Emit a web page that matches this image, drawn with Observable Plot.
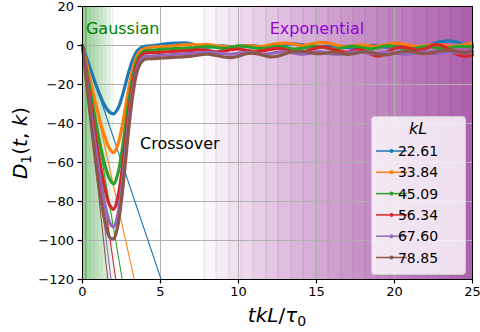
<!DOCTYPE html>
<html>
<head>
<meta charset="utf-8">
<script src="https://cdn.jsdelivr.net/npm/d3@7"></script>
<script src="https://cdn.jsdelivr.net/npm/@observablehq/plot@0.6"></script>
<style>
  html, body { margin: 0; padding: 0; background: white; }
  #chart { width: 480px; height: 332px; }
  svg { font-family: "DejaVu Sans", sans-serif; }
</style>
</head>
<body>
<div id="chart"></div>
<script>
// ---- data ----
const kLLabels = ["22.61", "33.84", "45.09", "56.34", "67.60", "78.85"];
const colors = ["#1f77b4", "#ff7f0e", "#2ca02c", "#d62728", "#9467bd", "#8c564b"];

const times = [0,0.25,0.5,0.75,1,1.25,1.5,1.75,2,2.25,2.5,2.75,3,3.25,3.5,3.75,4,
  4.5,5,5.5,6,6.5,7,7.5,8,8.5,9,9.5,10,10.5,11,11.5,12,12.5,13,13.5,14,14.5,15,15.5,16,16.5,17,17.5,18,18.5,19,19.5,20,20.5,21,21.5,22,22.5,23,23.5,24,24.5,25];

const d1_2261 = [0,-5.9,-11.9,-17.6,-23.1,-27.9,-31.9,-34.3,-35,-32.6,-27.3,-20,-12.6,-6.7,-2.8,-1.1,-0.4,
  0,0.5,1,1.2,1.3,0.8,-0.3,-0.8,-0.5,-0.2,-0.6,-0.5,0,-0.2,-0.8,-0.6,0,0.5,0.8,0.5,-0.2,-0.8,-0.5,0,-0.3,-1,-1.2,-0.6,0,-0.2,-0.8,-0.8,-0.3,-0.5,-1,-0.2,1,2,2.4,1.8,0.5,0.2];
const d1_3384 = [0,-9.0,-18.0,-26.7,-35.0,-42.4,-48.4,-53.0,-55,-51.2,-43.1,-31.8,-20.4,-11.3,-5.3,-2.6,-1.5,
  -0.8,-0.5,-0.5,0,0.3,0.5,0.3,0.5,0,-0.5,-0.8,-0.5,0,-0.3,-0.5,0.3,1,1.2,0.8,0,0.5,1.3,1.5,0.8,-0.2,-0.5,0,0.3,-0.3,-0.3,0.5,1.2,0.8,0,-0.5,0,0.5,0.3,-0.5,-0.3,0.5,1.2];
const d1_4509 = [0,-11.8,-23.5,-34.9,-45.6,-55.3,-63.2,-68.6,-71,-66.2,-55.8,-41.3,-26.8,-15.1,-7.5,-4.1,-2.7,
  -2.5,-2,-1.8,-1.5,-1.5,-1.2,-0.8,-0.6,-0.8,-1.5,-1.0,-0.2,-0.5,-1.2,-1.5,-1.0,-0.5,-1.0,-1.8,-1.5,-0.8,-0.5,-1.0,-1.8,-1.5,-0.5,-0.5,-1.2,-1.8,-1.0,-0.2,-0.5,-1.5,-2.0,-1.2,-0.5,-0.8,-1.5,-1.2,-0.5,-0.5,-1.0];
const d1_5634 = [0,-14.1,-28.0,-41.7,-54.5,-66.1,-75.5,-82.0,-84,-78.3,-66.2,-49.2,-32.2,-18.4,-9.5,-5.4,-3.8,
  -3.8,-3.5,-3.2,-3,-2.8,-2.5,-2.2,-2.5,-3.2,-3.0,-2.2,-1.8,-2.5,-3.2,-2.8,-2.0,-1.5,-2.2,-3.2,-3.5,-2.5,-1.2,-0.8,-1.8,-3.0,-3.5,-2.2,-2.5,-4.5,-5.5,-3.5,-1.5,-0.8,-1.5,-2.5,-1.5,0.3,0,-2,-4.5,-5.5,-5];
const d1_6760 = [0,-16.3,-32.4,-47.7,-61.8,-74.2,-84.0,-91.0,-93,-87.3,-73.9,-55.2,-36.5,-21.4,-11.6,-7.2,-5.4,
  -5.5,-5,-4.8,-4.5,-4.3,-4,-3.8,-3.5,-3.8,-4.2,-4.5,-4.0,-3.5,-3.8,-4.5,-4.2,-3.5,-3.2,-3.8,-4.5,-4.0,-3.2,-3.5,-4.3,-4.5,-3.8,-3.2,-3.5,-4.2,-4.0,-3.5,-3.8,-4.5,-4.3,-3.5,-3.5,-4.0,-3.8,-3.2,-3.5,-3.8,-3.5];
const d1_7885 = [0,-18.4,-36.3,-53.5,-69,-82,-92,-98.5,-99,-93,-79,-60,-40,-24,-13.5,-8.8,-7,
  -6.8,-6.5,-6.2,-6,-5.8,-5.5,-4.8,-4.5,-5.0,-5.8,-6.2,-5.5,-4.2,-4.0,-4.8,-5.8,-5.5,-4.2,-3.2,-3.0,-3.5,-4.2,-4.0,-3.5,-4.0,-4.5,-4.0,-3.2,-3.5,-4.5,-4.8,-4.0,-3.2,-3.0,-3.8,-4.2,-3.5,-2.8,-2.5,-3.0,-3.5,-3.0];
const seriesValues = [d1_2261, d1_3384, d1_4509, d1_5634, d1_6760, d1_7885];

// straight fit lines: from (0,0) down to where they leave the axes at -120
const fitStartT = [0, 0, 0, 0, 0, 0];
const fitStartV = [0, 0, 0, 0, 0, 0];
const fitEndT = [5.04, 3.32, 2.55, 2.13, 1.83, 1.62];
const fitEndV = [-120, -120, -120, -120, -120, -120];

// shaded regimes
const gaussianEdges = [0.22, 0.5, 0.75, 1.0, 1.25, 1.5, 1.75, 1.97];
const gaussianLine = [0.22];
const expEdges = [7.8, 8.56, 9.39, 10.16, 10.93, 11.76, 12.53, 13.37, 14.13, 14.97, 15.74, 16.57, 17.34, 18.11, 18.88, 19.65, 20.48, 21.25, 22.08, 22.85, 23.62, 24.39];
const xMax = 25;

const xTicks = [0, 5, 10, 15, 20, 25];
const yTicks = [20, 0, -20, -40, -60, -80, -100, -120];

const annotations = [
  {t: 0.22, v: 5.8, text: "Gaussian", color: "green"},
  {t: 12.0, v: 6.0, text: "Exponential", color: "darkviolet"},
  {t: 3.69, v: -53.1, text: "Crossover", color: "black"}
];

// ---- build ----
const marks = [];
marks.push(Plot.rectX(gaussianEdges, {x1: 0, x2: d => d, y1: -120, y2: 20, fill: "green", fillOpacity: 0.06}));
marks.push(Plot.ruleX(gaussianEdges, {x: d => d, y1: -120, y2: 20, stroke: "green", strokeOpacity: 0.08}));
marks.push(Plot.ruleX(gaussianLine, {x: d => d, y1: -120, y2: 20, stroke: "green", strokeOpacity: 0.45}));
marks.push(Plot.rectX(expEdges, {x1: d => d, x2: xMax, y1: -120, y2: 20, fill: "purple", fillOpacity: 0.04}));
marks.push(Plot.ruleX(expEdges, {x: d => d, y1: -120, y2: 20, stroke: "purple", strokeOpacity: 0.12}));
marks.push(Plot.gridX(xTicks, {stroke: "#b0b0b0", strokeOpacity: 1, strokeWidth: 1}));
marks.push(Plot.gridY(yTicks, {stroke: "#b0b0b0", strokeOpacity: 1, strokeWidth: 1}));

seriesValues.forEach((vals, k) => {
  const rows = times.map((t, i) => ({t, v: vals[i]}));
  marks.push(Plot.line(rows, {x: "t", y: "v", stroke: colors[k], strokeWidth: 3.2, curve: "catmull-rom", strokeLinejoin: "round"}));
  const fit = [{t: fitStartT[k], v: fitStartV[k]}, {t: fitEndT[k], v: fitEndV[k]}];
  marks.push(Plot.line(fit, {x: "t", y: "v", stroke: colors[k], strokeWidth: 1.1}));
});

marks.push(Plot.text(annotations, {x: "t", y: "v", text: "text", fill: d => d.color, textAnchor: "start", lineAnchor: "bottom", fontSize: 16}));
marks.push(Plot.frame({stroke: "black", strokeWidth: 1}));
marks.push(Plot.axisX(xTicks, {tickSize: 4.5, tickPadding: 3, fontSize: 13, label: null, strokeWidth: 1.2}));
marks.push(Plot.axisY(yTicks, {tickSize: 4.5, tickPadding: 4, fontSize: 13, label: null, strokeWidth: 1.2}));

const chart = Plot.plot({
  width: 480, height: 332,
  marginLeft: 82, marginRight: 8, marginTop: 6, marginBottom: 53,
  x: {domain: [0, 25]},
  y: {domain: [-120, 20]},
  style: {fontFamily: "DejaVu Sans, sans-serif", fontSize: "13px", color: "black", background: "white", overflow: "visible"},
  marks
});
document.getElementById("chart").appendChild(chart);

// ---- axis labels & legend ----
const svg = d3.select(chart);
const yl = svg.append("text")
  .attr("transform", "translate(27,143) rotate(-90)")
  .attr("text-anchor", "middle").attr("font-size", 20).attr("fill", "black");
yl.append("tspan").attr("font-style", "italic").text("D");
yl.append("tspan").attr("font-size", 14).attr("dy", 4).text("1");
yl.append("tspan").attr("dy", -4).text("(");
yl.append("tspan").attr("font-style", "italic").text("t");
yl.append("tspan").text(", ");
yl.append("tspan").attr("font-style", "italic").text("k");
yl.append("tspan").text(")");

const xl = svg.append("text")
  .attr("x", 277).attr("y", 322)
  .attr("text-anchor", "middle").attr("font-size", 20).attr("fill", "black");
xl.append("tspan").attr("font-style", "italic").text("tkL");
xl.append("tspan").text("/");
xl.append("tspan").attr("font-style", "italic").text("τ");
xl.append("tspan").attr("font-size", 14).attr("dy", 4).text("0");

const lg = svg.append("g");
lg.append("rect").attr("x", 371.5).attr("y", 116.5).attr("width", 94).attr("height", 158).attr("rx", 3)
  .attr("fill", "white").attr("fill-opacity", 0.8).attr("stroke", "#cccccc").attr("stroke-width", 1);
lg.append("text").attr("x", 418).attr("y", 134).attr("text-anchor", "middle").attr("font-size", 16)
  .attr("font-style", "italic").text("kL");
kLLabels.forEach((lab, i) => {
  const y = 151 + i * 21.3;
  lg.append("line").attr("x1", 376).attr("x2", 407).attr("y1", y).attr("y2", y)
    .attr("stroke", colors[i]).attr("stroke-width", 1.5);
  lg.append("circle").attr("cx", 391.5).attr("cy", y).attr("r", 2).attr("fill", colors[i]);
  lg.append("text").attr("x", 418).attr("y", y + 5).attr("font-size", 14).text(lab);
});
</script>
</body>
</html>
